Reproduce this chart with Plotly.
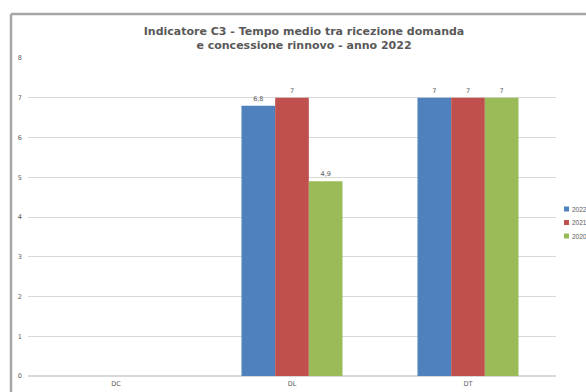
import plotly.graph_objects as go

categories = ["DC", "DL", "DT"]
series_names = ["2022", "2021", "2020"]
values_2022 = [None, 6.8, 7]
values_2021 = [None, 7, 7]
values_2020 = [None, 4.9, 7]
colors = ["#4F81BD", "#C0504D", "#9BBB59"]
y_ticks = [0, 1, 2, 3, 4, 5, 6, 7, 8]

fig = go.Figure()
for name, vals, col in zip(series_names, [values_2022, values_2021, values_2020], colors):
    fig.add_trace(go.Bar(
        x=categories, y=vals, name=name, showlegend=False,
        marker=dict(color=col, line=dict(width=0)),
        text=[("" if v is None else str(v).replace(".", ",")) for v in vals],
        textposition="outside",
        textfont=dict(size=6.5, color="#595959", family="DejaVu Sans"),
        cliponaxis=False,
    ))

L, R, T, B = 28, 30, 58, 16
W, H = 586, 392
pw, ph = W - L - R, H - T - B

def px_x(x):
    return (x - L) / pw

def px_y(y):
    return (H - B - y) / ph

fig.update_layout(
    width=W, height=H,
    margin=dict(l=L, r=R, t=T, b=B, autoexpand=False),
    paper_bgcolor="white", plot_bgcolor="white",
    separators=",.",
    barmode="group", bargap=0.426, bargroupgap=0,
    title=dict(
        text="Indicatore C3 - Tempo medio tra ricezione domanda<br>e concessione rinnovo - anno 2022",
        x=304 / W, xref="container", xanchor="center",
        y=1 - 35 / H, yref="container", yanchor="middle",
        font=dict(family="DejaVu Sans", size=11, color="#595959", weight="bold"),
    ),
    font=dict(family="DejaVu Sans", color="#595959"),
    xaxis=dict(
        showgrid=False, showline=True, linecolor="#d9d9d9", linewidth=1,
        tickfont=dict(size=6.5, color="#595959"), ticks="", ticklabelstandoff=1,
    ),
    yaxis=dict(
        range=[0, 8], tickvals=y_ticks, showgrid=True, gridcolor="#d9d9d9", gridwidth=1,
        zeroline=True, zerolinecolor="#d9d9d9", showline=False,
        tickfont=dict(size=6.5, color="#595959"), ticks="", ticklabelstandoff=5,
    ),
    showlegend=False,
)

# legend (small squares + labels at the right edge)
legend_y = [209, 222.5, 236]
for name, col, ly in zip(series_names, colors, legend_y):
    fig.add_shape(type="rect", xref="paper", yref="paper",
                  x0=px_x(564), x1=px_x(569), y0=px_y(ly + 2.5), y1=px_y(ly - 2.5),
                  fillcolor=col, line=dict(width=0))
    fig.add_annotation(text=name, xref="paper", yref="paper",
                       x=px_x(570), y=px_y(ly), xanchor="left", yanchor="middle",
                       showarrow=False,
                       font=dict(family="Liberation Sans", size=6.5, color="#595959"))

# chart border (top and left visible, cropped on right/bottom)
fig.add_shape(type="line", xref="paper", yref="paper",
              x0=px_x(11), x1=px_x(W + 20), y0=px_y(14), y1=px_y(14),
              line=dict(color="#a6a6a6", width=2.5))
fig.add_shape(type="line", xref="paper", yref="paper",
              x0=px_x(11), x1=px_x(11), y0=px_y(14), y1=px_y(H + 20),
              line=dict(color="#a6a6a6", width=2.5))

fig.write_html("out.html")
